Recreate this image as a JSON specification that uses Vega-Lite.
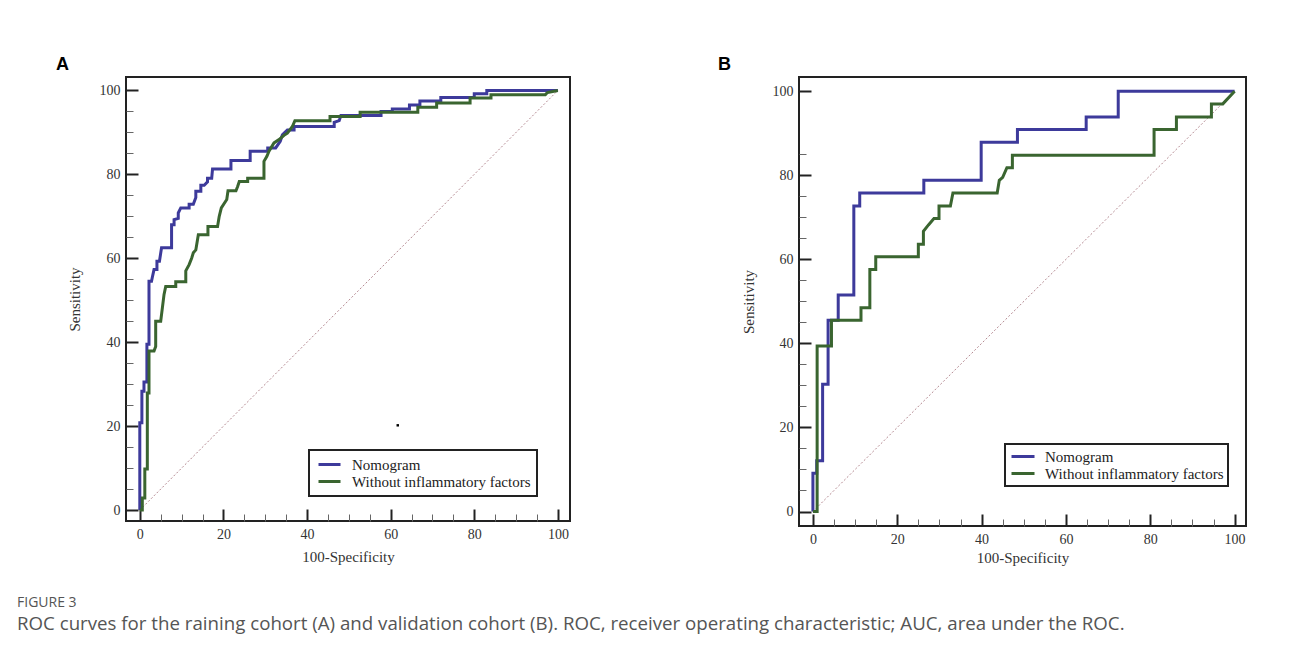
{
  "$schema": "https://vega.github.io/schema/vega-lite/v6.json",
  "background": "white",
  "padding": {"left": 17, "top": 54, "right": 10, "bottom": 10},
  "bounds": "flush",
  "spacing": 229,
  "title": {
    "text": "FIGURE 3",
    "subtitle": "ROC curves for the raining cohort (A) and validation cohort (B). ROC, receiver operating characteristic; AUC, area under the ROC.",
    "orient": "bottom",
    "anchor": "start",
    "frame": "bounds",
    "dx": -38,
    "offset": 30,
    "font": "Open Sans",
    "fontSize": 14,
    "fontWeight": "normal",
    "color": "#555555",
    "subtitleFont": "Open Sans",
    "subtitleFontSize": 18.7,
    "subtitleColor": "#555555",
    "subtitlePadding": 5
  },
  "config": {
    "view": {"stroke": "#222222", "strokeWidth": 2},
    "legend": {"strokeWidth": 2},
    "font": "Liberation Serif"
  },
  "resolve": {"scale": {"color": "independent"}, "legend": {"color": "independent"}},
  "datasets": {
    "rocA": [
      {"model": "Nomogram", "fpr": 0, "sens": 0},
      {"model": "Nomogram", "fpr": 0, "sens": 20.8},
      {"model": "Nomogram", "fpr": 0.5, "sens": 20.8},
      {"model": "Nomogram", "fpr": 0.5, "sens": 28.3},
      {"model": "Nomogram", "fpr": 1.0, "sens": 28.3},
      {"model": "Nomogram", "fpr": 1.0, "sens": 30.5},
      {"model": "Nomogram", "fpr": 1.7, "sens": 30.5},
      {"model": "Nomogram", "fpr": 1.7, "sens": 39.5},
      {"model": "Nomogram", "fpr": 2.2, "sens": 39.5},
      {"model": "Nomogram", "fpr": 2.2, "sens": 54.5},
      {"model": "Nomogram", "fpr": 2.8, "sens": 54.5},
      {"model": "Nomogram", "fpr": 3.0, "sens": 55.5},
      {"model": "Nomogram", "fpr": 3.4, "sens": 57.3},
      {"model": "Nomogram", "fpr": 4.1, "sens": 57.3},
      {"model": "Nomogram", "fpr": 4.1, "sens": 59.3},
      {"model": "Nomogram", "fpr": 4.7, "sens": 59.3},
      {"model": "Nomogram", "fpr": 5.2, "sens": 62.5},
      {"model": "Nomogram", "fpr": 7.6, "sens": 62.5},
      {"model": "Nomogram", "fpr": 7.6, "sens": 68.0},
      {"model": "Nomogram", "fpr": 8.2, "sens": 68.0},
      {"model": "Nomogram", "fpr": 8.2, "sens": 69.2},
      {"model": "Nomogram", "fpr": 9.2, "sens": 69.5},
      {"model": "Nomogram", "fpr": 9.2, "sens": 70.8},
      {"model": "Nomogram", "fpr": 9.8, "sens": 72.0},
      {"model": "Nomogram", "fpr": 11.8, "sens": 72.0},
      {"model": "Nomogram", "fpr": 11.8, "sens": 72.9},
      {"model": "Nomogram", "fpr": 12.8, "sens": 72.9},
      {"model": "Nomogram", "fpr": 13.4, "sens": 74.5},
      {"model": "Nomogram", "fpr": 13.4, "sens": 76.0},
      {"model": "Nomogram", "fpr": 14.6, "sens": 76.0},
      {"model": "Nomogram", "fpr": 14.6, "sens": 77.4},
      {"model": "Nomogram", "fpr": 15.4, "sens": 77.4},
      {"model": "Nomogram", "fpr": 16.2, "sens": 78.2},
      {"model": "Nomogram", "fpr": 16.2, "sens": 79.1},
      {"model": "Nomogram", "fpr": 17.2, "sens": 79.1},
      {"model": "Nomogram", "fpr": 17.4, "sens": 81.3},
      {"model": "Nomogram", "fpr": 21.8, "sens": 81.3},
      {"model": "Nomogram", "fpr": 21.8, "sens": 83.3},
      {"model": "Nomogram", "fpr": 26.4, "sens": 83.3},
      {"model": "Nomogram", "fpr": 26.4, "sens": 85.5},
      {"model": "Nomogram", "fpr": 30.6, "sens": 85.5},
      {"model": "Nomogram", "fpr": 30.6, "sens": 86.3},
      {"model": "Nomogram", "fpr": 32.5, "sens": 86.3},
      {"model": "Nomogram", "fpr": 33.6, "sens": 87.9},
      {"model": "Nomogram", "fpr": 34.1, "sens": 89.4},
      {"model": "Nomogram", "fpr": 35.3, "sens": 90.6},
      {"model": "Nomogram", "fpr": 36.9, "sens": 90.6},
      {"model": "Nomogram", "fpr": 36.9, "sens": 91.4},
      {"model": "Nomogram", "fpr": 46.5, "sens": 91.4},
      {"model": "Nomogram", "fpr": 46.5, "sens": 92.4},
      {"model": "Nomogram", "fpr": 47.7, "sens": 92.8},
      {"model": "Nomogram", "fpr": 48.1, "sens": 94.0},
      {"model": "Nomogram", "fpr": 57.7, "sens": 94.0},
      {"model": "Nomogram", "fpr": 57.7, "sens": 95.0},
      {"model": "Nomogram", "fpr": 60.4, "sens": 95.0},
      {"model": "Nomogram", "fpr": 60.4, "sens": 95.6},
      {"model": "Nomogram", "fpr": 64.5, "sens": 95.6},
      {"model": "Nomogram", "fpr": 64.5, "sens": 96.5},
      {"model": "Nomogram", "fpr": 67.0, "sens": 96.5},
      {"model": "Nomogram", "fpr": 67.0, "sens": 97.5},
      {"model": "Nomogram", "fpr": 72.0, "sens": 97.5},
      {"model": "Nomogram", "fpr": 72.0, "sens": 98.3},
      {"model": "Nomogram", "fpr": 80.0, "sens": 98.3},
      {"model": "Nomogram", "fpr": 80.0, "sens": 99.2},
      {"model": "Nomogram", "fpr": 83.0, "sens": 99.2},
      {"model": "Nomogram", "fpr": 83.0, "sens": 100},
      {"model": "Nomogram", "fpr": 100, "sens": 100},
      {"model": "Without inflammatory factors", "fpr": 0, "sens": 0},
      {"model": "Without inflammatory factors", "fpr": 0.6, "sens": 0},
      {"model": "Without inflammatory factors", "fpr": 0.6, "sens": 2.9},
      {"model": "Without inflammatory factors", "fpr": 1.2, "sens": 2.9},
      {"model": "Without inflammatory factors", "fpr": 1.2, "sens": 9.8},
      {"model": "Without inflammatory factors", "fpr": 1.8, "sens": 9.8},
      {"model": "Without inflammatory factors", "fpr": 1.8, "sens": 27.9},
      {"model": "Without inflammatory factors", "fpr": 2.2, "sens": 27.9},
      {"model": "Without inflammatory factors", "fpr": 2.2, "sens": 37.9},
      {"model": "Without inflammatory factors", "fpr": 3.4, "sens": 37.9},
      {"model": "Without inflammatory factors", "fpr": 3.8, "sens": 39.0},
      {"model": "Without inflammatory factors", "fpr": 3.8, "sens": 45.0},
      {"model": "Without inflammatory factors", "fpr": 5.0, "sens": 45.0},
      {"model": "Without inflammatory factors", "fpr": 5.4, "sens": 48.2},
      {"model": "Without inflammatory factors", "fpr": 5.8, "sens": 51.4},
      {"model": "Without inflammatory factors", "fpr": 6.2, "sens": 53.3},
      {"model": "Without inflammatory factors", "fpr": 8.6, "sens": 53.3},
      {"model": "Without inflammatory factors", "fpr": 8.6, "sens": 54.4},
      {"model": "Without inflammatory factors", "fpr": 11.0, "sens": 54.4},
      {"model": "Without inflammatory factors", "fpr": 11.0, "sens": 57.0},
      {"model": "Without inflammatory factors", "fpr": 11.8, "sens": 58.5},
      {"model": "Without inflammatory factors", "fpr": 12.4, "sens": 60.0},
      {"model": "Without inflammatory factors", "fpr": 12.8, "sens": 61.3},
      {"model": "Without inflammatory factors", "fpr": 13.4, "sens": 62.0},
      {"model": "Without inflammatory factors", "fpr": 14.0, "sens": 65.6},
      {"model": "Without inflammatory factors", "fpr": 16.3, "sens": 65.6},
      {"model": "Without inflammatory factors", "fpr": 16.3, "sens": 67.6},
      {"model": "Without inflammatory factors", "fpr": 18.6, "sens": 67.6},
      {"model": "Without inflammatory factors", "fpr": 19.0, "sens": 70.0},
      {"model": "Without inflammatory factors", "fpr": 19.5, "sens": 72.0},
      {"model": "Without inflammatory factors", "fpr": 20.8, "sens": 74.0},
      {"model": "Without inflammatory factors", "fpr": 21.1, "sens": 76.1},
      {"model": "Without inflammatory factors", "fpr": 23.0, "sens": 76.1},
      {"model": "Without inflammatory factors", "fpr": 23.4, "sens": 77.1},
      {"model": "Without inflammatory factors", "fpr": 23.8, "sens": 78.3},
      {"model": "Without inflammatory factors", "fpr": 25.8, "sens": 78.3},
      {"model": "Without inflammatory factors", "fpr": 25.8, "sens": 79.1},
      {"model": "Without inflammatory factors", "fpr": 29.7, "sens": 79.1},
      {"model": "Without inflammatory factors", "fpr": 29.7, "sens": 83.1},
      {"model": "Without inflammatory factors", "fpr": 30.4, "sens": 84.3},
      {"model": "Without inflammatory factors", "fpr": 30.9, "sens": 85.5},
      {"model": "Without inflammatory factors", "fpr": 32.1, "sens": 87.5},
      {"model": "Without inflammatory factors", "fpr": 33.3, "sens": 88.3},
      {"model": "Without inflammatory factors", "fpr": 34.5, "sens": 89.3},
      {"model": "Without inflammatory factors", "fpr": 35.3, "sens": 89.8},
      {"model": "Without inflammatory factors", "fpr": 36.5, "sens": 91.4},
      {"model": "Without inflammatory factors", "fpr": 37.1, "sens": 92.8},
      {"model": "Without inflammatory factors", "fpr": 45.5, "sens": 92.8},
      {"model": "Without inflammatory factors", "fpr": 45.5, "sens": 93.8},
      {"model": "Without inflammatory factors", "fpr": 52.7, "sens": 93.8},
      {"model": "Without inflammatory factors", "fpr": 52.7, "sens": 94.8},
      {"model": "Without inflammatory factors", "fpr": 66.5, "sens": 94.8},
      {"model": "Without inflammatory factors", "fpr": 66.5, "sens": 96.0},
      {"model": "Without inflammatory factors", "fpr": 71.0, "sens": 96.0},
      {"model": "Without inflammatory factors", "fpr": 71.0, "sens": 97.0},
      {"model": "Without inflammatory factors", "fpr": 79.0, "sens": 97.0},
      {"model": "Without inflammatory factors", "fpr": 79.0, "sens": 98.2},
      {"model": "Without inflammatory factors", "fpr": 84.0, "sens": 98.2},
      {"model": "Without inflammatory factors", "fpr": 84.0, "sens": 99.0},
      {"model": "Without inflammatory factors", "fpr": 97.0, "sens": 99.0},
      {"model": "Without inflammatory factors", "fpr": 97.5, "sens": 99.5},
      {"model": "Without inflammatory factors", "fpr": 100, "sens": 100}
    ],
    "rocB": [
      {"model": "Nomogram", "fpr": 0, "sens": 0},
      {"model": "Nomogram", "fpr": 0, "sens": 9.1},
      {"model": "Nomogram", "fpr": 0.9, "sens": 9.1},
      {"model": "Nomogram", "fpr": 0.9, "sens": 12.1},
      {"model": "Nomogram", "fpr": 2.3, "sens": 12.1},
      {"model": "Nomogram", "fpr": 2.3, "sens": 30.3},
      {"model": "Nomogram", "fpr": 3.6, "sens": 30.3},
      {"model": "Nomogram", "fpr": 3.6, "sens": 45.5},
      {"model": "Nomogram", "fpr": 6.0, "sens": 45.5},
      {"model": "Nomogram", "fpr": 6.0, "sens": 51.5},
      {"model": "Nomogram", "fpr": 9.7, "sens": 51.5},
      {"model": "Nomogram", "fpr": 9.7, "sens": 72.7},
      {"model": "Nomogram", "fpr": 11.1, "sens": 72.7},
      {"model": "Nomogram", "fpr": 11.1, "sens": 75.8},
      {"model": "Nomogram", "fpr": 26.3, "sens": 75.8},
      {"model": "Nomogram", "fpr": 26.3, "sens": 78.8},
      {"model": "Nomogram", "fpr": 39.9, "sens": 78.8},
      {"model": "Nomogram", "fpr": 39.9, "sens": 87.9},
      {"model": "Nomogram", "fpr": 48.5, "sens": 87.9},
      {"model": "Nomogram", "fpr": 48.5, "sens": 90.9},
      {"model": "Nomogram", "fpr": 64.8, "sens": 90.9},
      {"model": "Nomogram", "fpr": 64.8, "sens": 93.9},
      {"model": "Nomogram", "fpr": 72.4, "sens": 93.9},
      {"model": "Nomogram", "fpr": 72.4, "sens": 100},
      {"model": "Nomogram", "fpr": 100, "sens": 100},
      {"model": "Without inflammatory factors", "fpr": 0, "sens": 0},
      {"model": "Without inflammatory factors", "fpr": 1.0, "sens": 0},
      {"model": "Without inflammatory factors", "fpr": 1.0, "sens": 39.4},
      {"model": "Without inflammatory factors", "fpr": 4.4, "sens": 39.4},
      {"model": "Without inflammatory factors", "fpr": 4.4, "sens": 45.5},
      {"model": "Without inflammatory factors", "fpr": 11.4, "sens": 45.5},
      {"model": "Without inflammatory factors", "fpr": 11.4, "sens": 48.5},
      {"model": "Without inflammatory factors", "fpr": 13.5, "sens": 48.5},
      {"model": "Without inflammatory factors", "fpr": 13.5, "sens": 57.6},
      {"model": "Without inflammatory factors", "fpr": 14.9, "sens": 57.6},
      {"model": "Without inflammatory factors", "fpr": 14.9, "sens": 60.6},
      {"model": "Without inflammatory factors", "fpr": 25.0, "sens": 60.6},
      {"model": "Without inflammatory factors", "fpr": 25.0, "sens": 63.6},
      {"model": "Without inflammatory factors", "fpr": 26.2, "sens": 63.6},
      {"model": "Without inflammatory factors", "fpr": 26.2, "sens": 66.7},
      {"model": "Without inflammatory factors", "fpr": 27.4, "sens": 68.2},
      {"model": "Without inflammatory factors", "fpr": 28.7, "sens": 69.7},
      {"model": "Without inflammatory factors", "fpr": 29.9, "sens": 69.7},
      {"model": "Without inflammatory factors", "fpr": 29.9, "sens": 72.7},
      {"model": "Without inflammatory factors", "fpr": 32.6, "sens": 72.7},
      {"model": "Without inflammatory factors", "fpr": 33.2, "sens": 75.8},
      {"model": "Without inflammatory factors", "fpr": 43.7, "sens": 75.8},
      {"model": "Without inflammatory factors", "fpr": 44.2, "sens": 78.8},
      {"model": "Without inflammatory factors", "fpr": 45.0, "sens": 79.5},
      {"model": "Without inflammatory factors", "fpr": 46.0, "sens": 81.8},
      {"model": "Without inflammatory factors", "fpr": 47.3, "sens": 81.8},
      {"model": "Without inflammatory factors", "fpr": 47.3, "sens": 84.8},
      {"model": "Without inflammatory factors", "fpr": 80.9, "sens": 84.8},
      {"model": "Without inflammatory factors", "fpr": 80.9, "sens": 90.9},
      {"model": "Without inflammatory factors", "fpr": 86.2, "sens": 90.9},
      {"model": "Without inflammatory factors", "fpr": 86.2, "sens": 93.9},
      {"model": "Without inflammatory factors", "fpr": 94.5, "sens": 93.9},
      {"model": "Without inflammatory factors", "fpr": 94.5, "sens": 97.0},
      {"model": "Without inflammatory factors", "fpr": 97.2, "sens": 97.0},
      {"model": "Without inflammatory factors", "fpr": 100, "sens": 100}
    ],
    "diag": [
      {"fpr": 0, "sens": 0},
      {"fpr": 100, "sens": 100}
    ],
    "speck": [
      {"fpr": 61.7, "sens": 20.2}
    ]
  },
  "hconcat": [
    {
      "width": 444,
      "height": 444,
      "view": {"stroke": "#222222", "strokeWidth": 2},
      "title": {"text": "A", "anchor": "start", "frame": "group", "dx": -70, "offset": -10.5, "baseline": "alphabetic", "font": "Liberation Sans", "fontSize": 18, "fontWeight": "bold", "color": "#000000"},
      "resolve": {"axis": {"x": "independent", "y": "independent"}},
      "layer": [
        {
          "data": {"name": "diag"},
          "mark": {"type": "line", "color": "#b58a92", "strokeWidth": 1, "strokeDash": [2, 2]},
          "encoding": {
            "x": {"field": "fpr", "type": "quantitative", "scale": {"domain": [-3.3, 102.9], "nice": false, "zero": false},
              "axis": {"orient": "bottom", "values": [5, 10, 15, 25, 30, 35, 45, 50, 55, 65, 70, 75, 85, 90, 95], "labels": false, "title": null, "domain": false, "grid": false, "tickSize": 7, "offset": -7, "tickWidth": 1, "tickColor": "#666666"}},
            "y": {"field": "sens", "type": "quantitative", "scale": {"domain": [-2.6, 103.2], "nice": false, "zero": false},
              "axis": {"orient": "left", "values": [5, 10, 15, 25, 30, 35, 45, 50, 55, 65, 70, 75, 85, 90, 95], "labels": false, "title": null, "domain": false, "grid": false, "tickSize": 7, "offset": -7, "tickWidth": 1, "tickColor": "#666666"}}
          }
        },
        {
          "data": {"name": "rocA"},
          "mark": {"type": "line", "strokeWidth": 3},
          "encoding": {
            "x": {"field": "fpr", "type": "quantitative", "scale": {"domain": [-3.3, 102.9], "nice": false, "zero": false},
              "axis": {"orient": "bottom", "values": [0, 20, 40, 60, 80, 100], "domain": false, "grid": false, "tickSize": 12, "offset": -12, "tickWidth": 2, "tickColor": "#222222", "labelFont": "Liberation Serif", "labelFontSize": 14, "labelColor": "#333333", "labelPadding": 6, "title": "100-Specificity", "titleFont": "Liberation Serif", "titleFontSize": 15, "titleFontWeight": "normal", "titleColor": "#333333", "titlePadding": 8}},
            "y": {"field": "sens", "type": "quantitative", "scale": {"domain": [-2.6, 103.2], "nice": false, "zero": false},
              "axis": {"orient": "left", "values": [0, 20, 40, 60, 80, 100], "domain": false, "grid": false, "tickSize": 12, "offset": -12, "tickWidth": 2, "tickColor": "#222222", "labelFont": "Liberation Serif", "labelFontSize": 14, "labelColor": "#333333", "labelPadding": 6, "title": "Sensitivity", "titleFont": "Liberation Serif", "titleFontSize": 15, "titleFontWeight": "normal", "titleColor": "#333333", "titlePadding": 17}},
            "color": {"field": "model", "type": "nominal",
              "scale": {"domain": ["Nomogram", "Without inflammatory factors"], "range": ["#3d3a9b", "#3a6530"]},
              "legend": {"orient": "none", "legendX": 183, "legendY": 373, "title": null, "symbolType": "M-0.714,0H2.43", "symbolSize": 196, "symbolStrokeWidth": 3, "labelFont": "Liberation Serif", "labelFontSize": 15, "labelColor": "#222222", "labelOffset": 20, "labelLimit": 0, "padding": 6, "rowPadding": 0, "strokeColor": "#222222", "labelExpr": "datum.label + '\u00a0\u00a0\u00a0\u00a0\u00a0\u00a0\u00a0\u00a0\u00a0'"}},
            "order": {"value": null}
          }
        },
        {
          "data": {"name": "speck"},
          "mark": {"type": "square", "size": 6, "color": "#000000", "opacity": 1},
          "encoding": {
            "x": {"field": "fpr", "type": "quantitative", "axis": null},
            "y": {"field": "sens", "type": "quantitative", "axis": null}
          }
        }
      ]
    },
    {
      "width": 447,
      "height": 449,
      "view": {"stroke": "#222222", "strokeWidth": 2},
      "title": {"text": "B", "anchor": "start", "frame": "group", "dx": -81, "offset": -10.5, "baseline": "alphabetic", "font": "Liberation Sans", "fontSize": 18, "fontWeight": "bold", "color": "#000000"},
      "resolve": {"axis": {"x": "independent", "y": "independent"}},
      "layer": [
        {
          "data": {"name": "diag"},
          "mark": {"type": "line", "color": "#b58a92", "strokeWidth": 1, "strokeDash": [2, 2]},
          "encoding": {
            "x": {"field": "fpr", "type": "quantitative", "scale": {"domain": [-3.3, 102.7], "nice": false, "zero": false},
              "axis": {"orient": "bottom", "values": [5, 10, 15, 25, 30, 35, 45, 50, 55, 65, 70, 75, 85, 90, 95], "labels": false, "title": null, "domain": false, "grid": false, "tickSize": 7, "offset": -7, "tickWidth": 1, "tickColor": "#666666"}},
            "y": {"field": "sens", "type": "quantitative", "scale": {"domain": [-3.45, 103.4], "nice": false, "zero": false},
              "axis": {"orient": "left", "values": [5, 10, 15, 25, 30, 35, 45, 50, 55, 65, 70, 75, 85], "labels": false, "title": null, "domain": false, "grid": false, "tickSize": 7, "offset": -7, "tickWidth": 1, "tickColor": "#666666"}}
          }
        },
        {
          "data": {"name": "rocB"},
          "mark": {"type": "line", "strokeWidth": 3},
          "encoding": {
            "x": {"field": "fpr", "type": "quantitative", "scale": {"domain": [-3.3, 102.7], "nice": false, "zero": false},
              "axis": {"orient": "bottom", "values": [0, 20, 40, 60, 80, 100], "domain": false, "grid": false, "tickSize": 12, "offset": -12, "tickWidth": 2, "tickColor": "#222222", "labelFont": "Liberation Serif", "labelFontSize": 14, "labelColor": "#333333", "labelPadding": 6, "title": "100-Specificity", "titleFont": "Liberation Serif", "titleFontSize": 15, "titleFontWeight": "normal", "titleColor": "#333333", "titlePadding": 4}},
            "y": {"field": "sens", "type": "quantitative", "scale": {"domain": [-3.45, 103.4], "nice": false, "zero": false},
              "axis": {"orient": "left", "values": [0, 20, 40, 60, 80, 100], "domain": false, "grid": false, "tickSize": 12, "offset": -12, "tickWidth": 2, "tickColor": "#222222", "labelFont": "Liberation Serif", "labelFontSize": 14, "labelColor": "#333333", "labelPadding": 6, "title": "Sensitivity", "titleFont": "Liberation Serif", "titleFontSize": 15, "titleFontWeight": "normal", "titleColor": "#333333", "titlePadding": 16}},
            "color": {"field": "model", "type": "nominal",
              "scale": {"domain": ["Nomogram", "Without inflammatory factors"], "range": ["#3d3a9b", "#3a6530"]},
              "legend": {"orient": "none", "legendX": 206, "legendY": 367, "title": null, "symbolType": "M-0.857,0H2.43", "symbolSize": 196, "symbolStrokeWidth": 3, "labelFont": "Liberation Serif", "labelFontSize": 15, "labelColor": "#222222", "labelOffset": 19, "labelLimit": 0, "padding": 4, "rowPadding": 0, "strokeColor": "#222222", "labelExpr": "datum.label + '\u00a0\u00a0\u00a0\u00a0\u00a0\u00a0'"}},
            "order": {"value": null}
          }
        }
      ]
    }
  ]
}
